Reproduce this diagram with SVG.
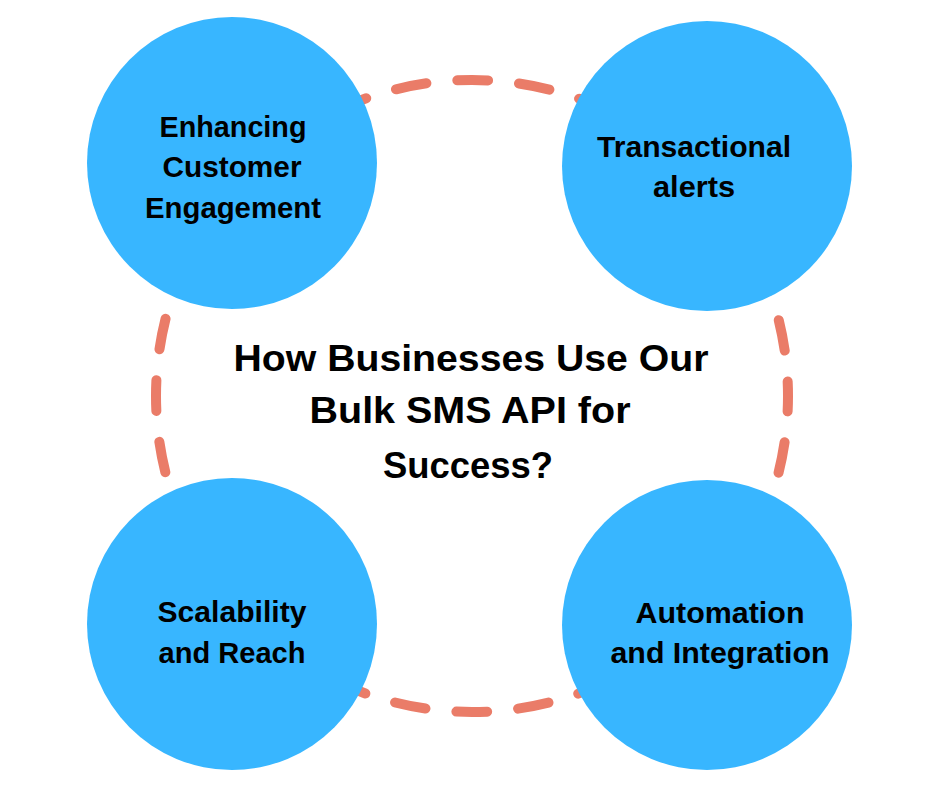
<svg xmlns="http://www.w3.org/2000/svg" width="940" height="788" viewBox="0 0 940 788">
  <style>
    .blob { fill: #38B6FF; }
    .loop { fill: none; stroke: #EA7C68; stroke-width: 10; stroke-linecap: round; stroke-dasharray: 31 31.05; stroke-dashoffset: 15.5; }
    .lbl { font-family: "Liberation Sans", Arial, sans-serif; font-weight: bold; font-size: 29px; fill: #000; text-anchor: middle; }
    .title { font-family: "Liberation Sans", Arial, sans-serif; font-weight: bold; font-size: 37px; fill: #000; text-anchor: middle; }
  </style>
  <rect width="940" height="788" fill="#FFFFFF"/>
  <g id="connectors">
    <circle class="loop" cx="472" cy="396" r="316"/>
  </g>
  <g id="node-engagement">
    <ellipse class="blob" cx="232" cy="163" rx="145" ry="146"/>
    <text class="lbl" x="233" y="137" textLength="147" lengthAdjust="spacingAndGlyphs">Enhancing</text>
    <text class="lbl" x="232" y="177" textLength="139" lengthAdjust="spacingAndGlyphs">Customer</text>
    <text class="lbl" x="233" y="218" textLength="176" lengthAdjust="spacingAndGlyphs">Engagement</text>
  </g>
  <g id="node-transactional">
    <ellipse class="blob" cx="707" cy="166" rx="145" ry="145"/>
    <text class="lbl" x="694" y="157" textLength="194" lengthAdjust="spacingAndGlyphs">Transactional</text>
    <text class="lbl" x="694" y="197" textLength="82" lengthAdjust="spacingAndGlyphs">alerts</text>
  </g>
  <g id="node-scalability">
    <ellipse class="blob" cx="232" cy="624" rx="145" ry="146"/>
    <text class="lbl" x="232" y="622" textLength="149" lengthAdjust="spacingAndGlyphs">Scalability</text>
    <text class="lbl" x="232" y="663" textLength="147" lengthAdjust="spacingAndGlyphs">and Reach</text>
  </g>
  <g id="node-automation">
    <ellipse class="blob" cx="707" cy="625" rx="145" ry="145"/>
    <text class="lbl" x="720" y="623" textLength="169" lengthAdjust="spacingAndGlyphs">Automation</text>
    <text class="lbl" x="720" y="663" textLength="219" lengthAdjust="spacingAndGlyphs">and Integration</text>
  </g>
  <g id="title">
    <text class="title" x="471" y="371" textLength="475" lengthAdjust="spacingAndGlyphs">How Businesses Use Our</text>
    <text class="title" x="470" y="423" textLength="321" lengthAdjust="spacingAndGlyphs">Bulk SMS API for</text>
    <text class="title" x="468" y="478" textLength="170" lengthAdjust="spacingAndGlyphs">Success?</text>
  </g>
</svg>
